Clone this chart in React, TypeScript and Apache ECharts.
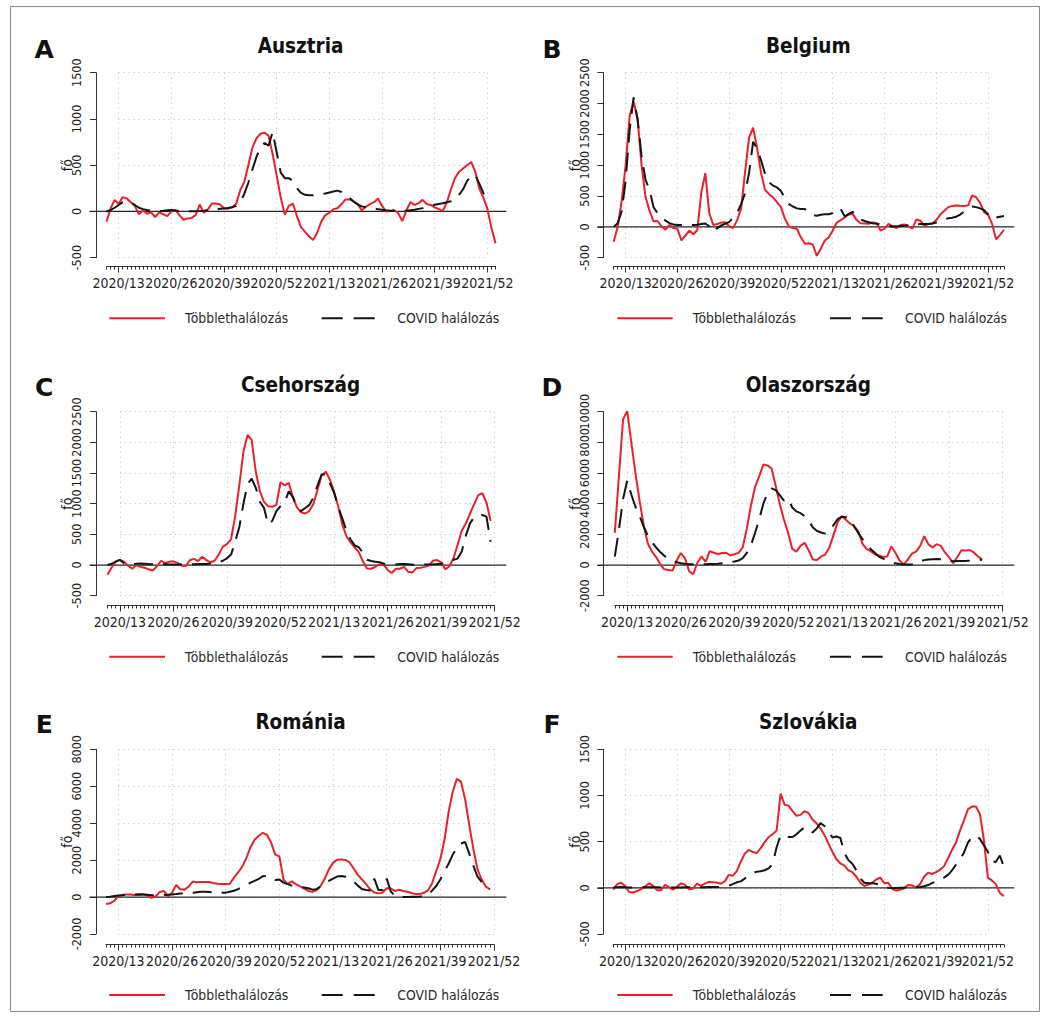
import React, { useEffect, useRef } from 'react';
import * as echarts from 'echarts';

// Weekly series start at 2020/10; index i corresponds to week number firstWeek + i
// (weeks of 2021 continue the count: 2021/1 = 53).
const firstWeek = 10;
const weekTicks = ['2020/13', '2020/26', '2020/39', '2020/52', '2021/13', '2021/26', '2021/39', '2021/52'];
const seriesNames = ['Többlethalálozás', 'COVID halálozás'];

// y tick labels, bottom to top
const ticks500to1500 = ['-500', '0', '500', '1000', '1500'];
const ticks500to2500 = ['-500', '0', '500', '1000', '1500', '2000', '2500'];
const ticks2000to10000 = ['-2000', '0', '2000', '4000', '6000', '8000', '10000'];
const ticks2000to8000 = ['-2000', '0', '2000', '4000', '6000', '8000'];

const ausztriaExcess = [
  -110, 30, 125, 80, 155, 140, 100, 60, -30, 10,
  -25, -10, -60, -10, -30, -50, 0, 15, -40, -90,
  -75, -70, -40, 75, -15, 20, 85, 85, 75, 35,
  30, 45, 80, 230, 320, 500, 690, 790, 840, 850,
  820, 620, 390, 150, -35, 60, 85, -50, -170, -220,
  -270, -310, -230, -110, -40, -15, 25, 35, 80, 130,
  130, 110, 80, 10, 50, 80, 100, 140, 60, 0,
  5, 15, -20, -105, 10, 100, 70, 90, 125, 80,
  70, 45, 25, 5, 100, 240, 360, 430, 465, 500,
  535, 430, 250, 150, 30, -180, -345,
];
const ausztriaCovid = [
  0, 15, 40, 70, 100, 105, 95, 70, 40, 25,
  15, 8, 3, 5, 8, 12, 15, 10, 5, 3,
  2, 2, 3, 5, 8, 12, 18, 22, 28, 33,
  38, 45, 60, 100, 190, 310, 450, 590, 690, 740,
  710, 860, 640, 420, 360, 360, 330, 250, 200, 180,
  175, 175, 180, 188, 195, 205, 215, 225, 210, 165,
  145, 105, 75, 55, 45, 35, 30, 25, 18, 12,
  8, 6, 5, 6, 8, 12, 18, 28, 36, 50,
  65, 72, 80, 88, 100, 110, 125, 180, 240, 330,
  380, 395, 300, 200, 125,
];

const belgiumExcess = [
  -240, 0, 420, 1000, 1800, 2030, 1750, 1000, 480, 260,
  90, 95, 10, -45, 30, -20, -30, -220, -140, -60,
  -120, -50, 560, 870, 220, 30, 45, 70, 75, 10,
  -20, 110, 300, 900, 1450, 1610, 1280, 870, 600, 530,
  480, 400, 320, 130, 5, -20, -30, -170, -275, -265,
  -290, -470, -350, -220, -170, -60, 70, 110, 155, 200,
  210, 110, 57, 55, 50, 70, 60, -60, -30, 50,
  10, -20, 30, 40, 10, -30, 120, 100, 15, 45,
  55, 110, 200, 260, 320, 340, 345, 342, 340, 350,
  510, 480, 390, 240, 200, 50, -200, -130, -50,
];
const belgiumCovid = [
  0, 60, 250, 750, 1570, 2100, 1740, 1150, 760, 600,
  320, 220, 160, 100, 60, 38, 30, 30, 30, 30,
  32, 35, 45, 55, 10, -80, -20, 25, 50, 80,
  150, 230, 370, 550, 880, 1380, 1270, 1080, 860, 720,
  670, 640, 580, 460, 370, 330, 300, 290, 289, 240,
  190, 180, 195, 205, 205, 225, 295, 290, 170, 210,
  245, 175, 120, 95, 75, 60, 50, 40, 28, 15,
  5, 8, 14, 20, 25, 30, 38, 45, 45, 48,
  55, 70, 85, 120, 140, 148, 165, 200, 250, 285,
  330, 320, 300, 270, 200, 130, 150, 165, 175,
];

const csehorszagExcess = [
  -160, -40, 55, 85, 55, -10, -60, 0, -30, -45,
  -70, -90, -20, 70, 30, 55, 60, 35, -10, -15,
  80, 100, 65, 135, 80, 45, 70, 170, 300, 340,
  420, 800, 1300, 1850, 2120, 2040, 1520, 1200, 1030, 960,
  950, 980, 1350, 1300, 1340, 1100, 940, 860, 840, 880,
  1000, 1230, 1460, 1520, 1390, 1200, 960, 660, 470, 370,
  290, 210, 60, -55, -60, -30, 10, 5, -80, -130,
  -60, -60, -30, -110, -120, -50, -45, -30, -10, 70,
  82, 45, -70, -20, 110, 330, 560, 680, 840, 990,
  1140, 1170, 1020, 720,
];
const csehorszagCovid = [
  0, 20, 55, 85, 30, 15, 15, 20, 25, 20,
  15, 12, 10, 10, 12, 10, 8, 8, 10, 12,
  12, 14, 15, 15, 18, 25, 35, 45, 70, 110,
  170, 380, 620, 1000, 1320, 1410, 1260, 1030, 930, 660,
  720, 880, 960, 1020, 1200, 1110, 950, 880, 930, 980,
  1100, 1300, 1480, 1470, 1330, 1180, 950, 760, 560, 420,
  320, 290, 200, 85, 65, 55, 45, 25, 12, 6,
  10, 15, 16, 12, 6, 4, 5, 8, 10, 12,
  15, 20, 28, 55, 85, 105, 220, 480, 680, 780,
  815, 815, 790, 380,
];

const olaszorszagExcess = [
  2100, 5800, 9500, 10050, 8000, 6000, 4200, 2600, 1400, 880,
  520, 60, -280, -320, -360, 300, 780, 450, -400, -600,
  150, 560, 200, 900, 800, 720, 780, 800, 620, 700,
  790, 1150, 2400, 3900, 5100, 5800, 6550, 6500, 6300, 5150,
  3950, 2950, 2100, 1050, 880, 1250, 1450, 950, 360, 330,
  560, 680, 1150, 1950, 2800, 3180, 2950, 2700, 2550, 2200,
  1400, 1050, 900, 700, 620, 520, 550, 1220, 800, 300,
  40, 350, 750, 880, 1250, 1880, 1350, 1150, 1360, 1250,
  820, 500, 120, 520, 960, 940, 980, 820, 560, 380,
];
const olaszorszagCovid = [
  550, 2300, 4300, 5500, 4600, 3800, 3200, 2500, 1900, 1500,
  1150, 850, 600, 400, 280, 180, 120, 80, 55, 45,
  40, 45, 55, 65, 70, 90, 120, 150, 190, 230,
  290, 450, 800, 1300, 2100, 3000, 4000, 4700, 5000, 4880,
  4550, 4200, 4350, 3750, 3500, 3380, 3200, 2900, 2450, 2220,
  2120, 2050, 2200, 2600, 3000, 3150, 3120, 3060, 2500, 2100,
  1700, 1350, 1050, 800, 550, 420, 300, 180, 110, 70,
  35, 30, 50, 150, 250, 320, 360, 385, 390, 370,
  330, 280, 245, 255, 260, 260, 300, 360, 370, 330,
];

const romaniaExcess = [
  -370, -340, -200, 50, 120, 145, 140, 100, 110, 150,
  80, -40, 30, 270, 330, 50, 230, 650, 420, 400,
  560, 840, 800, 820, 820, 810, 760, 720, 710, 705,
  720, 1050, 1330, 1650, 2100, 2700, 3100, 3320, 3480, 3370,
  2950, 2300, 2200, 950, 700, 850, 700, 580, 460, 330,
  280, 360, 600, 1000, 1500, 1850, 2020, 2040, 2010, 1870,
  1550, 1200, 950, 700, 420, 250, 200, 250, 480, 460,
  330, 400, 330, 290, 220, 160, 170, 230, 360, 750,
  1400, 2050, 3100, 4600, 5700, 6400, 6250, 5300, 3900, 2600,
  1500, 950, 570, 420,
];
const romaniaCovid = [
  0, 20, 60, 90, 100, 110, 130, 140, 150, 140,
  120, 100, 95, 100, 110, 130, 140, 160, 190, 200,
  210, 230, 260, 285, 290, 270, 250, 235, 235, 240,
  290, 340, 430, 560, 660, 780, 880, 980, 1130, 1140,
  1080, 930, 950, 780, 700, 620, 570, 540, 520, 480,
  400, 430, 580, 750, 880, 1000, 1110, 1140, 1100, 1000,
  840, 620, 440, 380, 360, 1000, 380, 380, 1000, 300,
  60, 20, 0, 10, 15, 20, 30, 50, 120, 350,
  600, 950, 1400, 1800, 2300, 2650, 2900, 2980, 2350, 1700,
  1100, 820, 620, 450,
];

const szlovakiaExcess = [
  -20, 40, 55, 20, -45, -50, -35, -15, 15, 50,
  22, -25, -25, 32, 8, -20, 12, 48, 35, -15,
  -10, 45, 20, 45, 65, 60, 58, 45, 70, 140,
  130, 180, 280, 370, 410, 390, 375, 430, 495, 550,
  580, 620, 1020, 900, 890, 830, 780, 790, 830, 810,
  740, 700, 645, 570, 480, 390, 310, 265, 240, 190,
  170, 120, 55, 20, 35, 55, 90, 110, 50, 55,
  -10, -30, -20, -5, 30, 25, 5, 40, 120, 165,
  150, 170, 195, 235, 320, 410, 490, 620, 730, 850,
  880, 880, 800, 520, 110, 80, 40, -55, -90,
];
const szlovakiaCovid = [
  0, 5, 8, 5, 3, 3, 4, 5, 5, 6,
  5, 5, 4, 4, 4, 3, 3, 4, 5, 5,
  5, 6, 6, 7, 8, 8, 8, 10, 15, 22,
  40, 60, 70, 100, 135, 160, 175, 180, 190, 210,
  260, 440, 570, 560, 550, 550, 580, 620, 655, 640,
  600, 640, 700, 670, 610, 545, 556, 540, 375, 300,
  260, 190, 100, 55, 50, 50, 45, 18, 5, 0,
  -3, -3, 0, 2, 4, 5, 7, 10, 18, 30,
  50, 70, 90, 110, 140, 190, 250, 310, 380, 490,
  550, 565, 530, 460, 390, 290, 280, 350, 230,
];

// ---- layout --------------------------------------------------------------
const FONT = '"DejaVu Sans Condensed", "DejaVu Sans", sans-serif';
const RED = '#e8222a';
const BLACK = '#141414';
const AXIS = '#333333';
const TEXT = '#1e1e1e';
const GRID = '#bdbdbd';

const ROWS = [
  { yTop: 72.7, yBot: 257.7, axisY: 266.5, titleY: 46, letterY: 49, legendY: 318.3 },
  { yTop: 411.7, yBot: 595.7, axisY: 605.5, titleY: 384.5, letterY: 387, legendY: 656.7 },
  { yTop: 749.3, yBot: 934, axisY: 944.5, titleY: 722, letterY: 724.3, legendY: 995 },
];
const COLS = [
  { yAxisX: 96, zeroL: 89.5, zeroR: 506.3, titleX: 300.6, letterX: 44.2, redL: 109.3, redR: 165, text1: 185, dashL: 321.7, dashR: 375, text2: 397.3 },
  { yAxisX: 603.5, zeroL: 597.5, zeroR: 1014.3, titleX: 808.3, letterX: 552, redL: 617.3, redR: 672.7, text1: 692.7, dashL: 830, dashR: 882.7, text2: 905 },
];

const panels = [
  { letter: 'A', title: 'Ausztria', excess: ausztriaExcess, covid: ausztriaCovid, lastWeek: 106, yTicks: ticks500to1500, row: 0, col: 0, x0: 106.5, x1: 495.5 },
  { letter: 'B', title: 'Belgium', excess: belgiumExcess, covid: belgiumCovid, lastWeek: 108, yTicks: ticks500to2500, row: 0, col: 1, x0: 613.7, x1: 1004 },
  { letter: 'C', title: 'Csehország', excess: csehorszagExcess, covid: csehorszagCovid, lastWeek: 104, yTicks: ticks500to2500, row: 1, col: 0, x0: 107.5, x1: 494.7 },
  { letter: 'D', title: 'Olaszország', excess: olaszorszagExcess, covid: olaszorszagCovid, lastWeek: 104, yTicks: ticks2000to10000, row: 1, col: 1, x0: 614.8, x1: 1002.7 },
  { letter: 'E', title: 'Románia', excess: romaniaExcess, covid: romaniaCovid, lastWeek: 104, yTicks: ticks2000to8000, row: 2, col: 0, x0: 106, x1: 494 },
  { letter: 'F', title: 'Szlovákia', excess: szlovakiaExcess, covid: szlovakiaCovid, lastWeek: 108, yTicks: ticks500to1500, row: 2, col: 1, x0: 613.2, x1: 1003.8 },
];

function text(x: number, y: number, str: string, font: string, align: string, fill = TEXT) {
  return {
    type: 'text',
    silent: true,
    style: { x, y, text: str, font, fill, align, verticalAlign: 'middle', textAlign: align, textVerticalAlign: 'middle' },
  };
}

function buildOption() {
  const grid: any[] = [];
  const xAxis: any[] = [];
  const yAxis: any[] = [];
  const series: any[] = [];
  const graphic: any[] = [
    { type: 'rect', silent: true, shape: { x: 10.5, y: 6.5, width: 1029, height: 1005 }, style: { fill: 'none', stroke: '#8a8a8a', lineWidth: 1 } },
  ];
  const axisLine = { color: AXIS, width: 1 };
  const dotted = { color: GRID, type: [1, 4], width: 1 };

  panels.forEach((p) => {
    const row = ROWS[p.row];
    const col = COLS[p.col];
    const h = row.yBot - row.yTop;
    const yMin = Number(p.yTicks[0]);
    const yMax = Number(p.yTicks[p.yTicks.length - 1]);
    const yStep = Number(p.yTicks[1]) - yMin;
    const pxPerWeek = (p.x1 - p.x0) / (p.lastWeek - firstWeek);
    const gx13 = p.x0 + (13 - firstWeek) * pxPerWeek;
    const gx104 = p.x0 + (104 - firstWeek) * pxPerWeek;
    const axisOffset = row.axisY - row.yBot;

    // dotted reference grid plus the labelled week ticks (2020/13 … 2021/52)
    const gGrid = grid.length;
    grid.push({ left: gx13, top: row.yTop, width: gx104 - gx13, height: h, outerBoundsMode: 'none' });
    xAxis.push({
      gridIndex: gGrid, type: 'value', position: 'bottom', min: 13, max: 104, interval: 13,
      axisLine: { show: false, onZero: false }, axisTick: { show: false }, axisLabel: { show: false },
      splitLine: { show: true, lineStyle: dotted },
    });
    const xLabelAxis = xAxis.length;
    xAxis.push({
      gridIndex: gGrid, type: 'category', position: 'bottom', data: weekTicks, boundaryGap: false, offset: axisOffset,
      axisLine: { show: false, onZero: false },
      axisTick: { show: true, length: 6, interval: 0, lineStyle: axisLine },
      axisLabel: { interval: 0, margin: 9, fontFamily: FONT, fontSize: 14, color: TEXT },
      splitLine: { show: false },
    });
    yAxis.push({
      gridIndex: gGrid, type: 'value', min: yMin, max: yMax, interval: yStep,
      axisLine: { show: false }, axisTick: { show: false }, axisLabel: { show: false },
      splitLine: { show: true, lineStyle: dotted },
    });

    // horizontal zero line across the plotting region
    const gZero = grid.length;
    grid.push({ left: col.zeroL, top: row.yTop, width: col.zeroR - col.zeroL, height: h, outerBoundsMode: 'none' });
    const xZero = xAxis.length;
    xAxis.push({ gridIndex: gZero, type: 'value', min: 0, max: 1, show: false });
    const yZero = yAxis.length;
    yAxis.push({ gridIndex: gZero, type: 'value', min: yMin, max: yMax, show: false });
    series.push({
      type: 'line', xAxisIndex: xZero, yAxisIndex: yZero, data: [[0, 0], [1, 0]],
      symbol: 'none', silent: true, lineStyle: { color: '#262626', width: 1.3 },
    });

    // main data grid: weekly minor ticks on x, value axis on y
    const gMain = grid.length;
    grid.push({ left: p.x0, top: row.yTop, width: p.x1 - p.x0, height: h, outerBoundsMode: 'none' });
    const xMain = xAxis.length;
    xAxis.push({
      gridIndex: gMain, type: 'value', position: 'bottom', min: firstWeek, max: p.lastWeek, interval: 1, offset: axisOffset,
      axisLine: { show: true, onZero: false, lineStyle: axisLine },
      axisTick: { show: true, length: 3, lineStyle: axisLine },
      axisLabel: { show: false }, splitLine: { show: false },
    });
    const yMain = yAxis.length;
    yAxis.push({
      gridIndex: gMain, type: 'value', position: 'left', min: yMin, max: yMax, interval: yStep, offset: p.x0 - col.yAxisX,
      axisLine: { show: true, onZero: false, lineStyle: axisLine },
      axisTick: { show: true, length: 6, lineStyle: axisLine },
      axisLabel: { show: false },
      splitLine: { show: false },
      name: 'fő', nameLocation: 'middle', nameRotate: 90, nameGap: 22,
      nameTextStyle: { fontFamily: FONT, fontSize: 14, color: TEXT },
    });
    // tick labels of the value axis, one per tick, all kept even where they touch
    yAxis.push({
      gridIndex: gMain, type: 'category', position: 'left', data: p.yTicks, boundaryGap: false, offset: p.x0 - col.yAxisX,
      axisLine: { show: false, onZero: false }, axisTick: { show: false },
      axisLabel: { interval: 0, rotate: 90, margin: 13, fontFamily: FONT, fontSize: 12.5, color: TEXT },
      splitLine: { show: false },
    });
    series.push({
      type: 'line', name: seriesNames[0], xAxisIndex: xMain, yAxisIndex: yMain,
      data: p.excess.map((v, i) => [firstWeek + i, v]),
      symbol: 'none', silent: true, lineStyle: { color: RED, width: 2 },
    });
    series.push({
      type: 'line', name: seriesNames[1], xAxisIndex: xMain, yAxisIndex: yMain,
      data: p.covid.map((v, i) => [firstWeek + i, v]),
      symbol: 'none', silent: true, lineStyle: { color: BLACK, width: 2, type: [19, 10] },
    });
    void xLabelAxis;

    // panel letter, title and legend
    graphic.push(text(col.letterX, row.letterY, p.letter, 'bold 25px "DejaVu Sans", sans-serif', 'center', '#111'));
    graphic.push(text(col.titleX, row.titleY, p.title, `bold 20.5px ${FONT}`, 'center', '#111'));
    graphic.push({ type: 'line', silent: true, shape: { x1: col.redL, y1: row.legendY, x2: col.redR, y2: row.legendY }, style: { stroke: RED, lineWidth: 2 } });
    graphic.push(text(col.text1, row.legendY, seriesNames[0], `13.8px ${FONT}`, 'left', '#2a2a2a'));
    graphic.push({ type: 'line', silent: true, shape: { x1: col.dashL, y1: row.legendY, x2: col.dashR, y2: row.legendY }, style: { stroke: BLACK, lineWidth: 2, lineDash: [21, 11] } });
    graphic.push(text(col.text2, row.legendY, seriesNames[1], `13.8px ${FONT}`, 'left', '#2a2a2a'));
  });

  return { animation: false, backgroundColor: '#ffffff', grid, xAxis, yAxis, series, graphic };
}

export default function App() {
  const ref = useRef<HTMLDivElement>(null);
  useEffect(() => {
    const chart = echarts.init(ref.current!, null, { renderer: 'svg' });
    chart.setOption(buildOption());
    return () => chart.dispose();
  }, []);
  return (
    <div
      ref={ref}
      style={{ position: 'absolute', left: 0, top: 0, width: 1045, height: 1017, background: '#ffffff' }}
    />
  );
}
